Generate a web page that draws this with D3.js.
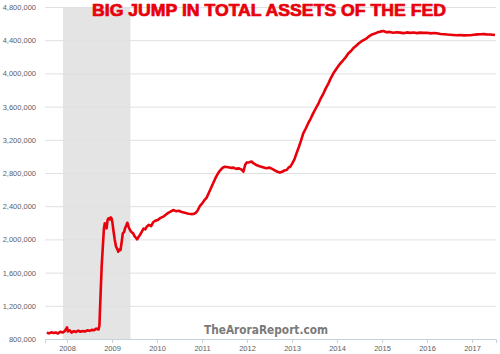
<!DOCTYPE html>
<html>
<head>
<meta charset="utf-8">
<script src="https://cdn.jsdelivr.net/npm/d3@7"></script>
<style>
  body { margin: 0; background: #fff; }
  svg { display: block; font-family: "Open Sans", "Liberation Sans", sans-serif; }
</style>
</head>
<body>
<div id="chart"></div>
<script>
// decimal year of each reading
var years = [2007.55, 2007.60, 2007.65, 2007.70, 2007.75, 2007.80, 2007.85, 2007.90, 2007.95, 2008.00,
  2008.02, 2008.06, 2008.10, 2008.15, 2008.20, 2008.25, 2008.30, 2008.35, 2008.40, 2008.45,
  2008.50, 2008.55, 2008.60, 2008.65, 2008.70, 2008.72, 2008.74, 2008.77, 2008.80, 2008.82,
  2008.84, 2008.86, 2008.88, 2008.90, 2008.92, 2008.95, 2008.97, 2008.99, 2009.01, 2009.03,
  2009.06, 2009.09, 2009.12, 2009.14, 2009.17, 2009.19, 2009.22, 2009.24, 2009.27, 2009.29,
  2009.32, 2009.34, 2009.37, 2009.40, 2009.43, 2009.47, 2009.50, 2009.53, 2009.56, 2009.59,
  2009.62, 2009.66, 2009.70, 2009.74, 2009.77, 2009.82, 2009.87, 2009.92, 2009.96, 2010.02,
  2010.08, 2010.14, 2010.20, 2010.25, 2010.30, 2010.36, 2010.42, 2010.48, 2010.55, 2010.62,
  2010.70, 2010.76, 2010.81, 2010.86, 2010.90, 2010.95, 2011.00, 2011.05, 2011.10, 2011.15,
  2011.20, 2011.25, 2011.30, 2011.35, 2011.40, 2011.45, 2011.51, 2011.58, 2011.64, 2011.70,
  2011.76, 2011.82, 2011.88, 2011.92, 2011.96, 2011.99, 2012.05, 2012.10, 2012.15, 2012.21,
  2012.28, 2012.35, 2012.43, 2012.50, 2012.56, 2012.62, 2012.68, 2012.73, 2012.78, 2012.83,
  2012.88, 2012.93, 2012.96, 2013.00, 2013.05, 2013.10, 2013.15, 2013.20, 2013.25, 2013.30,
  2013.36, 2013.41, 2013.47, 2013.53, 2013.59, 2013.64, 2013.70, 2013.75, 2013.81, 2013.86,
  2013.92, 2013.98, 2014.03, 2014.09, 2014.14, 2014.20, 2014.25, 2014.31, 2014.36, 2014.42,
  2014.48, 2014.54, 2014.60, 2014.66, 2014.72, 2014.78, 2014.84, 2014.90, 2014.96, 2015.03,
  2015.10, 2015.17, 2015.25, 2015.33, 2015.40, 2015.48, 2015.55, 2015.62, 2015.70, 2015.78,
  2015.84, 2015.92, 2016.00, 2016.08, 2016.15, 2016.22, 2016.30, 2016.38, 2016.45, 2016.52,
  2016.58, 2016.66, 2016.74, 2016.82, 2016.90, 2016.96, 2017.04, 2017.12, 2017.20, 2017.25,
  2017.32, 2017.40, 2017.46, 2017.51];

// total assets, $ billions
var assets = [875, 868, 880, 872, 878, 866, 888, 878, 895, 940,
  890, 905, 878, 895, 885, 900, 888, 895, 890, 905,
  898, 910, 905, 925, 915, 960, 1250, 1670, 1950, 2130,
  2194, 2160, 2134, 2230, 2254, 2240, 2265, 2254, 2200, 2113,
  2000, 1912, 1880, 1852, 1880, 1872, 1990, 2073, 2090, 2134,
  2170, 2201, 2150, 2113, 2090, 2073, 2040, 2020, 2001, 2030,
  2053, 2090, 2130, 2120, 2153, 2175, 2160, 2210, 2225, 2235,
  2260, 2274, 2300, 2320, 2334, 2354, 2340, 2345, 2330, 2320,
  2310, 2305, 2306, 2320, 2345, 2400, 2430, 2470, 2500, 2560,
  2620, 2680, 2740, 2790, 2830, 2860, 2876, 2870, 2862, 2865,
  2850, 2856, 2840, 2816, 2900, 2925, 2930, 2937, 2915, 2896,
  2880, 2870, 2857, 2865, 2850, 2830, 2815, 2804, 2815, 2830,
  2836, 2870, 2876, 2910, 2960, 3037, 3110, 3190, 3278, 3330,
  3400, 3450, 3519, 3580, 3640, 3700, 3760, 3820, 3880, 3940,
  4001, 4050, 4090, 4130, 4161, 4200, 4240, 4270, 4302, 4330,
  4360, 4385, 4405, 4423, 4450, 4470, 4480, 4495, 4503, 4510,
  4495, 4500, 4490, 4495, 4491, 4485, 4494, 4488, 4492, 4485,
  4491, 4488, 4490, 4482, 4486, 4483, 4475, 4472, 4468, 4465,
  4463, 4460, 4462, 4458, 4460, 4459, 4465, 4470, 4472, 4475,
  4470, 4468, 4465, 4463];

var yTicks = [800000, 1200000, 1600000, 2000000, 2400000, 2800000, 3200000, 3600000, 4000000, 4400000, 4800000];
var xTicks = [2008, 2009, 2010, 2011, 2012, 2013, 2014, 2015, 2016, 2017];
var recession = [2007.91, 2009.41];
var title = "BIG JUMP IN TOTAL ASSETS OF THE FED";
var watermark = "TheAroraReport.com";

var setWidth = 500;
var setHeight = 354;
var margin = {top: 7, right: 4, bottom: 15, left: 45};
var width = setWidth - margin.left - margin.right;
var height = setHeight - margin.top - margin.bottom;

var data = years.map(function (d, i) { return {t: d, v: assets[i] * 1000}; });

var svg = d3.select("#chart")
    .append("svg")
    .attr("width", setWidth)
    .attr("height", setHeight)
    .append("g")
    .attr("transform", "translate(" + margin.left + "," + margin.top + ")");

var x = d3.scaleLinear()
    .domain([2007.511, 2017.533])
    .range([0, width]);

var y = d3.scaleLinear()
    .domain([800000, 4800000])
    .range([height, 0]);

// recession band
svg.append("rect")
    .attr("x", x(recession[0]))
    .attr("y", 0)
    .attr("width", x(recession[1]) - x(recession[0]))
    .attr("height", height)
    .style("fill", "#e4e4e4");

// horizontal grid + labels
var yAxis = svg.append("g")
    .call(d3.axisLeft(y).tickValues(yTicks).tickFormat(d3.format(",")).tickSize(-width).tickPadding(9));
yAxis.select(".domain").remove();
yAxis.selectAll(".tick line").style("stroke", "#e0e0e0");
yAxis.selectAll(".tick text")
    .style("fill", "#606060")
    .style("font-size", "7.5px");

// x axis
var xAxis = svg.append("g")
    .attr("transform", "translate(0," + height + ")")
    .call(d3.axisBottom(x).tickValues(xTicks).tickFormat(d3.format("d")).tickSize(4).tickPadding(3));
xAxis.select(".domain").style("stroke", "#c8d2dc");
xAxis.selectAll(".tick line").style("stroke", "#c8d2dc");
xAxis.selectAll(".tick text")
    .style("fill", "#606060")
    .style("font-size", "7.5px");

// the series
svg.append("path")
    .datum(data)
    .attr("d", d3.line().x(function (d) { return x(d.t); }).y(function (d) { return y(d.v); }))
    .style("fill", "none")
    .style("stroke", "#e8000b")
    .style("stroke-width", 2.6)
    .style("stroke-linejoin", "round");

// title (stroked a little to look heavier)
d3.select("svg").append("text")
    .attr("x", 92)
    .attr("y", 15.5)
    .attr("textLength", 354)
    .attr("lengthAdjust", "spacingAndGlyphs")
    .style("font-family", "'Liberation Sans', Arial, sans-serif")
    .style("font-weight", "bold")
    .style("font-size", "17px")
    .style("fill", "#e8000b")
    .style("stroke", "#e8000b")
    .style("stroke-width", 0.7)
    .text(title);

// watermark
d3.select("svg").append("text")
    .attr("x", 204)
    .attr("y", 333.5)
    .attr("textLength", 124)
    .attr("lengthAdjust", "spacingAndGlyphs")
    .style("font-family", "'DejaVu Sans', sans-serif")
    .style("font-weight", "bold")
    .style("font-size", "11.5px")
    .style("fill", "#7a7a7a")
    .text(watermark);
</script>
</body>
</html>
